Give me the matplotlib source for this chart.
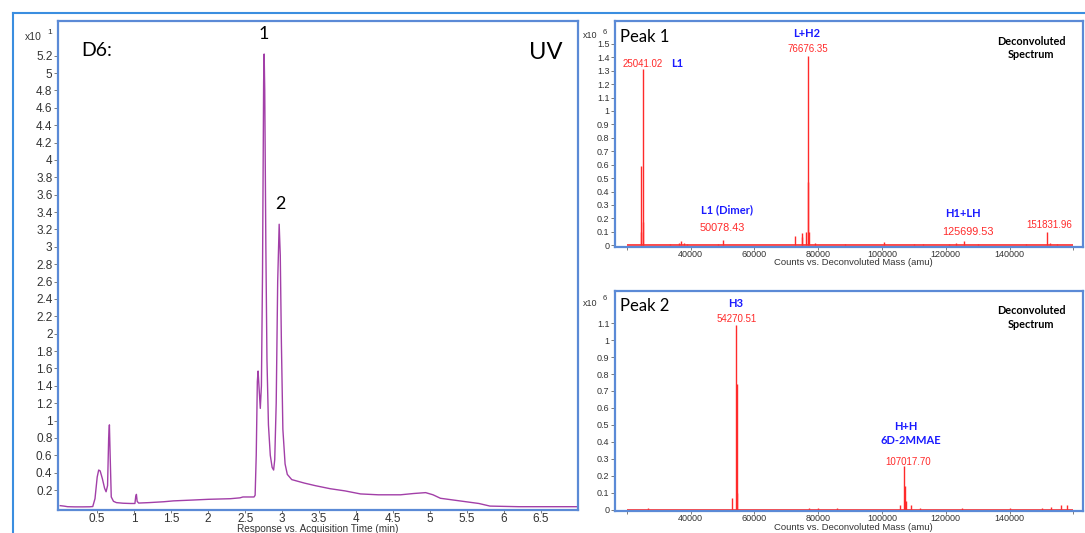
import matplotlib
matplotlib.use("Agg")
import matplotlib.pyplot as plt
from matplotlib.lines import Line2D

W, H = 1085, 533

# UV chromatogram (response x10^1 vs time in min)
uv_time = [0.00, 0.05, 0.10, 0.20, 0.30, 0.40, 0.44, 0.47, 0.50, 0.52, 0.54, 0.57, 0.60, 0.62,
           0.64, 0.655, 0.665, 0.675, 0.69, 0.72, 0.76, 0.85, 0.95, 1.01, 1.02, 1.03, 1.04, 1.06,
           1.2, 1.4, 1.53, 1.8, 2.0, 2.3, 2.43, 2.47, 2.55, 2.62, 2.635, 2.65, 2.665, 2.675,
           2.69, 2.705, 2.72, 2.735, 2.75, 2.757, 2.765, 2.78, 2.795, 2.815, 2.84, 2.865, 2.885,
           2.90, 2.92, 2.94, 2.96, 2.975, 2.99, 3.01, 3.04, 3.07, 3.13, 3.3, 3.45, 3.65, 3.85,
           4.06, 4.3, 4.6, 4.78, 4.94, 5.04, 5.14, 5.4, 5.66, 5.81, 6.2, 7.0]
uv_resp = [0.020, 0.015, 0.008, 0.006, 0.006, 0.007, 0.010, 0.10, 0.35, 0.43, 0.42, 0.33, 0.22, 0.18,
           0.25, 0.80, 0.95, 0.60, 0.12, 0.07, 0.055, 0.048, 0.045, 0.045, 0.12, 0.15, 0.07, 0.05,
           0.055, 0.065, 0.075, 0.085, 0.093, 0.10, 0.11, 0.12, 0.12, 0.12, 0.14, 0.60, 1.45, 1.57,
           1.35, 1.14, 1.40, 2.70, 4.90, 5.22, 4.80, 3.00, 1.70, 0.95, 0.60, 0.46, 0.43,
           0.55, 1.20, 2.60, 3.26, 2.90, 1.90, 0.90, 0.50, 0.38, 0.32, 0.28, 0.25, 0.215, 0.19,
           0.155, 0.145, 0.145, 0.16, 0.17, 0.145, 0.105, 0.075, 0.045, 0.015, 0.008, 0.008]
uv_yticks = [0.2, 0.4, 0.6, 0.8, 1, 1.2, 1.4, 1.6, 1.8, 2, 2.2, 2.4, 2.6, 2.8, 3, 3.2, 3.4,
             3.6, 3.8, 4, 4.2, 4.4, 4.6, 4.8, 5, 5.2]
uv_xticks = [0.5, 1, 1.5, 2, 2.5, 3, 3.5, 4, 4.5, 5, 5.5, 6, 6.5]

# deconvoluted spectra (counts x10^6 vs mass in amu)
p1_mass = [24300, 24500, 25041.02, 25200, 33500, 36500, 37000, 38000, 39000, 48500, 50078.43,
           72800, 74800, 75000, 76200, 76676.35, 76900, 77100, 79000, 88500, 100500, 110000,
           113000, 121000, 123200, 125699.53, 130000, 145000, 151831.96, 152500, 155000]
p1_int = [0.59, 0.10, 1.31, 0.17, 0.01, 0.02, 0.03, 0.02, 0.01, 0.01, 0.04,
          0.07, 0.09, 0.06, 0.10, 1.41, 0.47, 0.10, 0.02, 0.01, 0.025, 0.01,
          0.01, 0.01, 0.02, 0.03, 0.01, 0.01, 0.10, 0.02, 0.01]
p2_mass = [26500, 52900, 54270.51, 54450, 54600, 77000, 80000, 86000, 105500, 107017.70,
           107200, 107500, 109000, 112000, 125000, 140000, 150000, 153000, 156000, 158000]
p2_int = [0.01, 0.07, 1.09, 0.74, 0.10, 0.01, 0.01, 0.01, 0.03, 0.26,
          0.14, 0.05, 0.03, 0.01, 0.01, 0.01, 0.01, 0.015, 0.03, 0.025]
mass_ticks = [20000, 40000, 60000, 80000, 100000, 120000, 140000, 160000]
mass_labels = ["", "40000", "60000", "80000", "100000", "120000", "140000", ""]
p1_yticks = [0, 0.1, 0.2, 0.3, 0.4, 0.5, 0.6, 0.7, 0.8, 0.9, 1, 1.1, 1.2, 1.3, 1.4, 1.5]
p2_yticks = [0, 0.1, 0.2, 0.3, 0.4, 0.5, 0.6, 0.7, 0.8, 0.9, 1, 1.1]

FRAME = "#5b8ad6"
TICKC = "#333333"
TICKF = "Liberation Sans"
HEAD = ["Lato", "DejaVu Sans"]
RED = "#ff2a2a"
BLUE = "#1a1aff"


def rect(x0, y0, x1, y1):
    # pixel box -> figure rect
    return [x0 / W, 1 - y1 / H, (x1 - x0) / W, (y1 - y0) / H]


def style(ax, size):
    for s in ax.spines.values():
        s.set_color(FRAME)
        s.set_linewidth(1.6)
    ax.tick_params(direction="out", length=3, width=0.6, color="#666666",
                   labelsize=size, labelcolor=TICKC, pad=1)
    for lb in ax.get_xticklabels() + ax.get_yticklabels():
        lb.set_family(TICKF)


fig = plt.figure(figsize=(W / 100, H / 100), dpi=100)

# outer frame of the slide
fig.add_artist(Line2D([13 / W, 1], [1 - 13 / H, 1 - 13 / H], color="#3a8ee0", lw=1.5))
fig.add_artist(Line2D([13 / W, 13 / W], [1 - 13 / H, 0], color="#3a8ee0", lw=1.5))

# ---------------- UV chromatogram ----------------
ax = fig.add_axes(rect(58, 21, 578, 510))
ax.plot(uv_time, uv_resp, color="#a23fa8", lw=1.0)
ax.set_xlim(-0.03, 7.0)
ax.set_ylim(-0.03, 5.6)
ax.set_yticks(uv_yticks)
ax.set_yticklabels([f"{v:g}" for v in uv_yticks])
ax.set_xticks(uv_xticks)
ax.set_xticklabels([f"{v:g}" for v in uv_xticks])
style(ax, 8.5)
ax.tick_params(axis="x", length=2, pad=0)
ax.text(0.045, 0.94, "D6:", transform=ax.transAxes, fontsize=14, family=HEAD, va="center")
ax.text(0.905, 0.935, "UV", transform=ax.transAxes, fontsize=17, family=HEAD, va="center")
ax.text(2.757, 5.45, "1", fontsize=13, family=HEAD, ha="center", va="center")
ax.text(2.975, 3.49, "2", fontsize=13, family=HEAD, ha="center", va="center")
fig.text(25 / W, 1 - 37 / H, "x10", fontsize=7.5, family=TICKF, color=TICKC, va="center")
fig.text(47 / W, 1 - 32 / H, "1", fontsize=6, family=TICKF, color=TICKC, va="center")
fig.text(318 / W, 1 - 528.5 / H, "Response vs. Acquisition Time (min)", fontsize=7.2,
         family=TICKF, color=TICKC, ha="center", va="center")

# ---------------- spectra ----------------
def spectrum(box, mass, inten, yticks, ylim, name, ylab, xlab_y):
    a = fig.add_axes(rect(*box))
    a.hlines(0, 20000, 160000, color=RED, lw=1.2)
    a.vlines(mass, 0, inten, color=RED, lw=1.0)
    a.set_xlim(16300, 163000)
    a.set_ylim(*ylim)
    a.set_xticks(mass_ticks)
    a.set_xticklabels(mass_labels)
    a.set_yticks(yticks)
    a.set_yticklabels([f"{v:g}" for v in yticks])
    style(a, 6.5)
    a.tick_params(axis="x", length=2, pad=0)
    a.text(0.011, 0.93, name, transform=a.transAxes, fontsize=12, family=HEAD, va="center")
    a.text(0.889, 0.91, "Deconvoluted", transform=a.transAxes, fontsize=7.8, family=HEAD,
           weight="bold", ha="center", va="center")
    a.text(0.889, 0.85, "Spectrum", transform=a.transAxes, fontsize=7.8, family=HEAD,
           weight="bold", ha="center", va="center")
    fig.text(583 / W, 1 - ylab / H, "x10", fontsize=6.5, family=TICKF, color=TICKC, va="center")
    fig.text(603 / W, 1 - (ylab - 4) / H, "6", fontsize=5.5, family=TICKF, color=TICKC, va="center")
    fig.text(853 / W, 1 - xlab_y / H, "Counts vs. Deconvoluted Mass (amu)",
             fontsize=6.8, family=TICKF, color=TICKC, ha="center", va="center")
    return a


a1 = spectrum((615, 21, 1083, 247), p1_mass, p1_int, p1_yticks, (-0.013, 1.67), "Peak 1", 36, 263)
red_kw = dict(color=RED, family=TICKF, ha="center", va="center")
blue_kw = dict(color=BLUE, family=HEAD, weight="bold", ha="center", va="center", fontsize=8)
a1.text(25041, 1.35, "25041.02", fontsize=7, **red_kw)
a1.text(35770, 1.35, "L1", **blue_kw)
a1.text(76370, 1.575, "L+H2", **blue_kw)
a1.text(76840, 1.463, "76676.35", fontsize=7, **red_kw)
a1.text(51440, 0.263, "L1 (Dimer)", **blue_kw)
a1.text(50030, 0.129, "50078.43", fontsize=7.8, **red_kw)
a1.text(125270, 0.233, "H1+LH", **blue_kw)
a1.text(126830, 0.099, "125699.53", fontsize=7.8, **red_kw)
a1.text(152380, 0.151, "151831.96", fontsize=7, **red_kw)

a2 = spectrum((615, 291, 1083, 511), p2_mass, p2_int, p2_yticks, (-0.008, 1.29), "Peak 2", 303, 527)
a2.text(54260, 1.216, "H3", **blue_kw)
a2.text(54450, 1.122, "54270.51", fontsize=7, **red_kw)
a2.text(107540, 0.488, "H+H", **blue_kw)
a2.text(109100, 0.406, "6D-2MMAE", **blue_kw)
a2.text(108040, 0.283, "107017.70", fontsize=7, **red_kw)

fig.savefig("out.png", dpi=100)
